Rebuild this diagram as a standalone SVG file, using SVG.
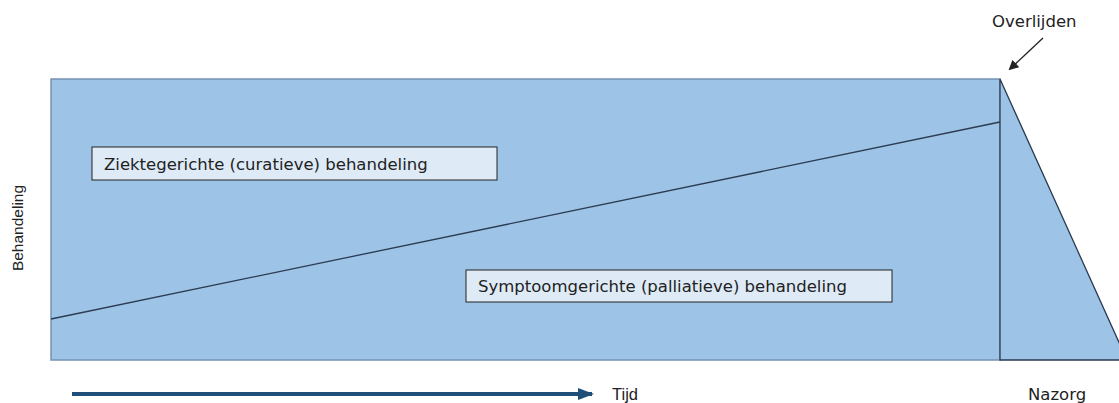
<svg xmlns="http://www.w3.org/2000/svg" width="1119" height="403" viewBox="0 0 1119 403">
<defs>
<style>
.t{font-family:"DejaVu Sans",Verdana,sans-serif;font-size:16.5px;fill:#222}
.s{font-family:"Liberation Sans",Arial,sans-serif;fill:#222}
.box{fill:#deebf7;stroke:#222;stroke-width:1}
.dark{stroke:#2a3b52;stroke-width:1.3;fill:none}
</style>
<marker id="ah" markerWidth="10" markerHeight="10" refX="8" refY="5" orient="auto" markerUnits="userSpaceOnUse"><path d="M0,0 L10,5 L0,10 z" fill="#222"/></marker>
<marker id="ah2" markerWidth="16" markerHeight="12" refX="14" refY="6" orient="auto" markerUnits="userSpaceOnUse"><path d="M0,0 L16,6 L0,12 z" fill="#1f4e79"/></marker>
</defs>
<rect width="1119" height="403" fill="#fff"/>
<g id="main">
<rect x="51" y="79" width="949" height="281" fill="#9dc3e6" stroke="#7593b3" stroke-width="1.5"/>
</g>
<g id="nazorg-shape">
<polygon points="1000,79 1127,360 1000,360" fill="#9dc3e6" stroke="#2a3b52" stroke-width="1.3"/>
</g>
<g id="connectors">
<line x1="51" y1="319" x2="1000" y2="122" class="dark"/>
<line x1="1043" y1="38" x2="1010" y2="69" stroke="#222" stroke-width="1.3" marker-end="url(#ah)"/>
<line x1="72" y1="394" x2="592" y2="394" stroke="#1f4e79" stroke-width="4" marker-end="url(#ah2)"/>
</g>
<g id="curatief">
<rect x="92" y="147" width="405" height="33" class="box"/>
<text x="104" y="170" class="t">Ziektegerichte (curatieve) behandeling</text>
</g>
<g id="palliatief">
<rect x="466" y="270" width="426" height="32" class="box"/>
<text x="478" y="292" class="t">Symptoomgerichte (palliatieve) behandeling</text>
</g>
<g id="labels">
<text x="992" y="27" class="t" font-size="15.3">Overlijden</text>
<text x="612" y="400" class="s" font-size="16.5">Tijd</text>
<text x="1028" y="400" class="t" font-size="15">Nazorg</text>
<text transform="translate(23,228) rotate(-90)" text-anchor="middle" class="s" font-size="15.5">Behandeling</text>
</g>
</svg>
